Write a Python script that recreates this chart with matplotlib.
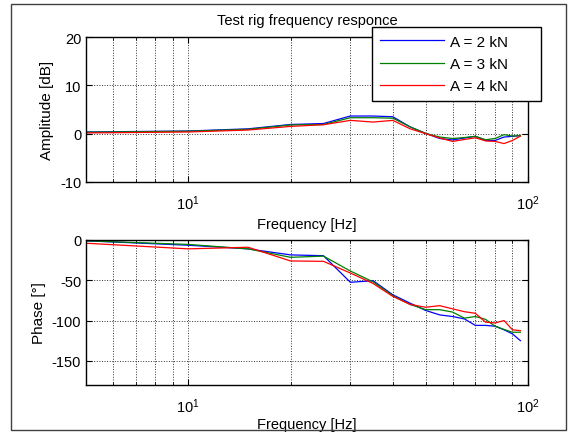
import numpy as np
import matplotlib
matplotlib.use("Agg")
import matplotlib.pyplot as plt
from matplotlib.patches import Rectangle
from matplotlib.ticker import NullFormatter, LogLocator

plt.rcParams['font.family'] = ['Liberation Sans', 'DejaVu Sans']
plt.rcParams['font.size'] = 10
plt.rcParams['axes.unicode_minus'] = False

# Test frequencies [Hz]
freq = [5, 10, 15, 20, 25, 30, 35, 40, 45, 50, 55, 60, 65, 70, 75, 80, 85, 90, 95]

# Amplitude [dB]
amp_2kN = [0.35, 0.55, 1.0, 1.9, 2.1, 3.65, 3.65, 3.5, 1.4, 0.05, -1.0, -1.3, -0.9, -0.55, -1.4, -1.4, -0.7, -0.55, -0.4]
amp_3kN = [0.3, 0.5, 0.9, 1.8, 1.9, 3.3, 3.3, 3.2, 1.4, 0.05, -0.7, -1.0, -0.8, -0.55, -1.25, -1.0, -0.2, -0.5, -0.4]
amp_4kN = [0.15, 0.35, 0.75, 1.5, 1.85, 2.75, 2.4, 2.75, 1.0, 0.0, -0.9, -1.6, -1.2, -0.85, -1.5, -1.6, -2.05, -1.4, -0.5]

# Phase [deg]
ph_2kN = [-1, -6.5, -11, -18.5, -19.5, -52.5, -50.5, -68, -78.5, -87.5, -93, -95, -98, -106, -106, -107, -111.5, -116.5, -125]
ph_3kN = [-1, -5.5, -11, -21.5, -20, -38.5, -52, -69, -80, -86.5, -86.5, -89.5, -97, -95, -98.5, -107, -111, -114.5, -114.5]
ph_4kN = [-4, -11, -9, -26, -26.5, -41, -54, -70, -80, -83.5, -81.5, -85.5, -89, -91, -102, -103, -100, -111.5, -112.5]

labels = ['A = 2 kN', 'A = 3 kN', 'A = 4 kN']
colors = ['#0000ff', '#008000', '#ff0000']


def style_axes(ax, lpad):
    ax.set_xscale('log')
    ax.set_xlim(5, 100)
    ax.xaxis.set_minor_locator(LogLocator(base=10, subs=np.arange(2, 10)))
    ax.xaxis.set_minor_formatter(NullFormatter())
    ax.tick_params(which='both', direction='in', top=True, right=True, labelsize=10.5)
    ax.tick_params(which='major', length=4)
    ax.tick_params(which='minor', length=2)
    ax.tick_params(axis='x', which='major', pad=8)
    ax.grid(True, which='major', linestyle=':', color='#303030', linewidth=0.7)
    ax.grid(True, which='minor', axis='x', linestyle=':', color='#303030', linewidth=0.7)
    for s in ax.spines.values():
        s.set_linewidth(1.0)
    ax.set_xlabel('Frequency [Hz]', fontsize=10.5, labelpad=lpad)


fig = plt.figure(figsize=(5.72, 4.35), dpi=100)

ax1 = fig.add_axes([86/572, 1-183/435, 442/572, 145/435])
for y, c, l in zip([amp_2kN, amp_3kN, amp_4kN], colors, labels):
    # trailing spaces give the wide right margin of the legend box
    ax1.plot(freq, y, color=c, lw=0.9, label=l + '      ')
style_axes(ax1, 3.5)
ax1.set_ylim(-10, 20)
ax1.set_yticks([-10, 0, 10, 20])
ax1.set_ylabel('Amplitude [dB]', fontsize=11)
ax1.set_title('Test rig frequency responce', fontsize=10.5, pad=9)

ax2 = fig.add_axes([86/572, 1-386/435, 442/572, 145/435])
for y, c in zip([ph_2kN, ph_3kN, ph_4kN], colors):
    ax2.plot(freq, y, color=c, lw=0.9)
style_axes(ax2, 2)
ax2.set_ylim(-180, 0)
ax2.set_yticks([-150, -100, -50, 0])
ax2.set_ylabel('Phase [°]', fontsize=11)

leg = ax1.legend(loc='upper right', bbox_to_anchor=(541/572, 1-28/435),
                 bbox_transform=fig.transFigure, fancybox=False,
                 framealpha=1, edgecolor='black', handlelength=4.2, handletextpad=0.4,
                 borderpad=0.5, borderaxespad=0, labelspacing=0.55, fontsize=11)
leg.get_frame().set_linewidth(1.0)

# frame around the whole figure
fig.add_artist(Rectangle((11/572, 4/435), 555/572, 426/435, transform=fig.transFigure,
                         fill=False, edgecolor='#404040', linewidth=1.0))

fig.savefig('out.png', dpi=100)
